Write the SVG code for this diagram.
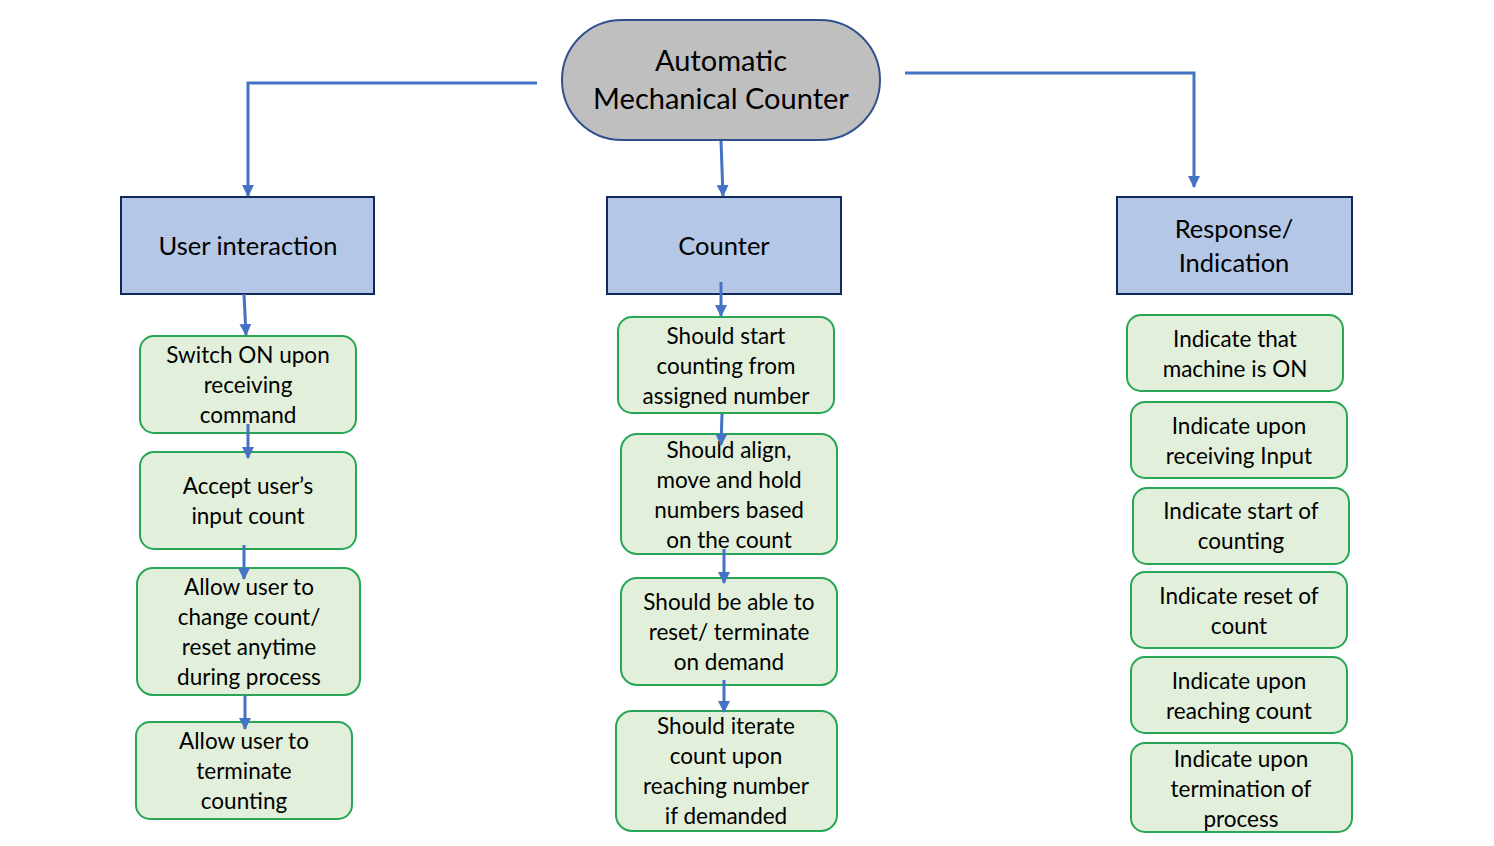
<svg xmlns="http://www.w3.org/2000/svg" width="1494" height="846" viewBox="0 0 1494 846">
<style>
text{font-family:Lato,"Open Sans","Liberation Sans",sans-serif;font-size:22.5px;fill:#000;text-anchor:middle}
.top{fill:#bfbfbf;stroke:#2f528f;stroke-width:2}
.tt{font-size:29px}
.hdr rect{fill:#b4c7e7;stroke:#0e2a5a;stroke-width:2}
.hdr text{font-size:25.5px}
.g rect{fill:#e2efda;stroke:#28a655;stroke-width:2}
.c{fill:none;stroke:#4472c4;stroke-width:3}
</style>
<defs>
<marker id="ah" markerUnits="userSpaceOnUse" markerWidth="13" markerHeight="12" refX="11" refY="6" orient="auto">
<path d="M0,0 L12,6 L0,12 Z" fill="#4472c4"/>
</marker>
</defs>
<rect width="1494" height="846" fill="#fff"/>
<g id="root">
<rect class="top" x="562" y="20" width="318" height="120" rx="60"/>
<text class="tt" x="721" y="71">Automatic</text>
<text class="tt" x="721" y="109">Mechanical Counter</text>
</g>
<g id="user-interaction" class="hdr">
<rect x="121" y="197" width="253" height="97"/>
<text x="248" y="255">User interaction</text>
</g>
<g id="counter" class="hdr">
<rect x="607" y="197" width="234" height="97"/>
<text x="724" y="255">Counter</text>
</g>
<g id="response" class="hdr">
<rect x="1117" y="197" width="235" height="97"/>
<text x="1234" y="238">Response/</text>
<text x="1234" y="272">Indication</text>
</g>
<g id="switch-on" class="g">
<rect x="140" y="336" width="216" height="97" rx="14"/>
<text x="248" y="363">Switch ON upon</text>
<text x="248" y="393">receiving</text>
<text x="248" y="423">command</text>
</g>
<g id="accept" class="g">
<rect x="140" y="452" width="216" height="97" rx="14"/>
<text x="248" y="494">Accept user’s</text>
<text x="248" y="524">input count</text>
</g>
<g id="allow-change" class="g">
<rect x="137" y="568" width="223" height="127" rx="16"/>
<text x="249" y="595">Allow user to</text>
<text x="249" y="625">change count/</text>
<text x="249" y="655">reset anytime</text>
<text x="249" y="685">during process</text>
</g>
<g id="allow-terminate" class="g">
<rect x="136" y="722" width="216" height="97" rx="14"/>
<text x="244" y="749">Allow user to</text>
<text x="244" y="779">terminate</text>
<text x="244" y="809">counting</text>
</g>
<g id="start-counting" class="g">
<rect x="618" y="317" width="216" height="96" rx="14"/>
<text x="726" y="344">Should start</text>
<text x="726" y="374">counting from</text>
<text x="726" y="404">assigned number</text>
</g>
<g id="align" class="g">
<rect x="621" y="434" width="216" height="120" rx="16"/>
<text x="729" y="458">Should align,</text>
<text x="729" y="488">move and hold</text>
<text x="729" y="518">numbers based</text>
<text x="729" y="548">on the count</text>
</g>
<g id="reset-terminate" class="g">
<rect x="621" y="578" width="216" height="107" rx="16"/>
<text x="729" y="610">Should be able to</text>
<text x="729" y="640">reset/ terminate</text>
<text x="729" y="670">on demand</text>
</g>
<g id="iterate" class="g">
<rect x="616" y="711" width="221" height="120" rx="16"/>
<text x="726" y="734">Should iterate</text>
<text x="726" y="764">count upon</text>
<text x="726" y="794">reaching number</text>
<text x="726" y="824">if demanded</text>
</g>
<g id="ind-on" class="g">
<rect x="1127" y="315" width="216" height="76" rx="14"/>
<text x="1235" y="347">Indicate that</text>
<text x="1235" y="377">machine is ON</text>
</g>
<g id="ind-input" class="g">
<rect x="1131" y="402" width="216" height="76" rx="14"/>
<text x="1239" y="434">Indicate upon</text>
<text x="1239" y="464">receiving Input</text>
</g>
<g id="ind-start" class="g">
<rect x="1133" y="488" width="216" height="76" rx="14"/>
<text x="1241" y="519">Indicate start of</text>
<text x="1241" y="549">counting</text>
</g>
<g id="ind-reset" class="g">
<rect x="1131" y="572" width="216" height="76" rx="14"/>
<text x="1239" y="604">Indicate reset of</text>
<text x="1239" y="634">count</text>
</g>
<g id="ind-reach" class="g">
<rect x="1131" y="657" width="216" height="76" rx="14"/>
<text x="1239" y="689">Indicate upon</text>
<text x="1239" y="719">reaching count</text>
</g>
<g id="ind-terminate" class="g">
<rect x="1131" y="743" width="221" height="89" rx="14"/>
<text x="1241" y="767">Indicate upon</text>
<text x="1241" y="797">termination of</text>
<text x="1241" y="827">process</text>
</g>
<g id="connectors">
<path class="c" d="M537,83 H248 V196" marker-end="url(#ah)"/>
<path class="c" d="M721,141 L723,196" marker-end="url(#ah)"/>
<path class="c" d="M905,73 H1194 V187" marker-end="url(#ah)"/>
<path class="c" d="M244,294 L246,335" marker-end="url(#ah)"/>
<path class="c" d="M248,424 L248,458" marker-end="url(#ah)"/>
<path class="c" d="M244,545 L244,579" marker-end="url(#ah)"/>
<path class="c" d="M245,695 L245,729" marker-end="url(#ah)"/>
<path class="c" d="M721,282 L721,316" marker-end="url(#ah)"/>
<path class="c" d="M722,414 L721,445" marker-end="url(#ah)"/>
<path class="c" d="M724,549 L724,583" marker-end="url(#ah)"/>
<path class="c" d="M724,680 L724,712" marker-end="url(#ah)"/>
</g>
</svg>
